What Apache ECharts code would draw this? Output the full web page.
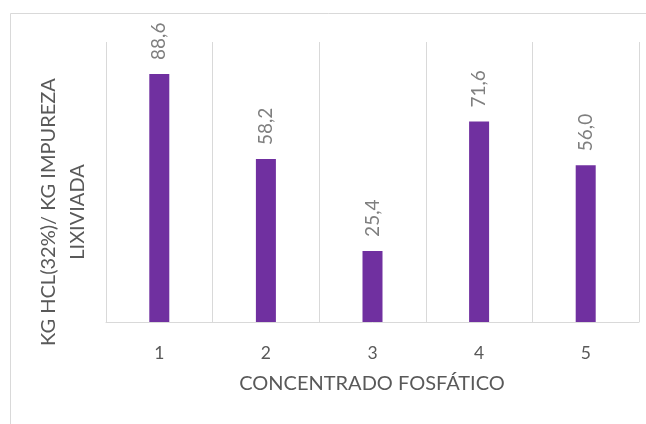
<!DOCTYPE html>
<html>
<head>
<meta charset="utf-8">
<script src="https://cdn.jsdelivr.net/npm/echarts@6/dist/echarts.min.js"></script>
<style>
  html, body { margin: 0; padding: 0; background: #ffffff; }
  #chart { width: 646px; height: 424px; }
</style>
</head>
<body>
<div id="chart"></div>
<script>
// Consumo de HCl por concentrado
const categories = ['1', '2', '3', '4', '5'];
const hclPorImpureza = [88.6, 58.2, 25.4, 71.6, 56.0];
const yAxisMin = 0;
const yAxisMax = 100;

const FONT = 'Lato, "Open Sans", sans-serif';
const TEXT = '#595959';

const chart = echarts.init(document.getElementById('chart'), null, { renderer: 'canvas' });

chart.setOption({
  animation: false,
  backgroundColor: '#ffffff',
  grid: { left: 106, right: 7, top: 42, bottom: 102, containLabel: false },
  xAxis: {
    type: 'category',
    data: categories,
    boundaryGap: true,
    axisLine: { show: true, lineStyle: { color: '#d9d9d9', width: 1 } },
    axisTick: { show: false },
    splitLine: { show: true, interval: 0, lineStyle: { color: '#d9d9d9', width: 1 } },
    axisLabel: { color: TEXT, fontFamily: FONT, fontSize: 17.5, margin: 22 }
  },
  yAxis: {
    type: 'value',
    min: yAxisMin,
    max: yAxisMax,
    axisLine: { show: false },
    axisTick: { show: false },
    axisLabel: { show: false },
    splitLine: { show: false }
  },
  series: [{
    type: 'bar',
    data: hclPorImpureza,
    barWidth: 20,
    itemStyle: { color: '#7030a0' },
    label: {
      show: true,
      position: 'top',
      rotate: 90,
      align: 'left',
      verticalAlign: 'middle',
      distance: 14,
      color: '#7f7f7f',
      fontFamily: FONT,
      fontSize: 19,
      formatter: p => p.value.toFixed(1).replace('.', ',')
    }
  }],
  graphic: [
    {
      type: 'rect',
      silent: true,
      shape: { x: 10.5, y: 13.5, width: 700, height: 500 },
      style: { fill: 'none', stroke: '#d9d9d9', lineWidth: 1 }
    },
    {
      type: 'text',
      silent: true,
      x: 63, y: 212, rotation: Math.PI / 2,
      style: {
        text: 'KG HCL(32%)/ KG IMPUREZA\nLIXIVIADA',
        font: '20px ' + FONT,
        fill: TEXT,
        align: 'center',
        verticalAlign: 'middle',
        lineHeight: 29
      }
    },
    {
      type: 'text',
      silent: true,
      x: 372, y: 384,
      style: {
        text: 'CONCENTRADO FOSFÁTICO',
        font: '20px ' + FONT,
        fill: TEXT,
        align: 'center',
        verticalAlign: 'middle'
      }
    }
  ]
});
</script>
</body>
</html>
